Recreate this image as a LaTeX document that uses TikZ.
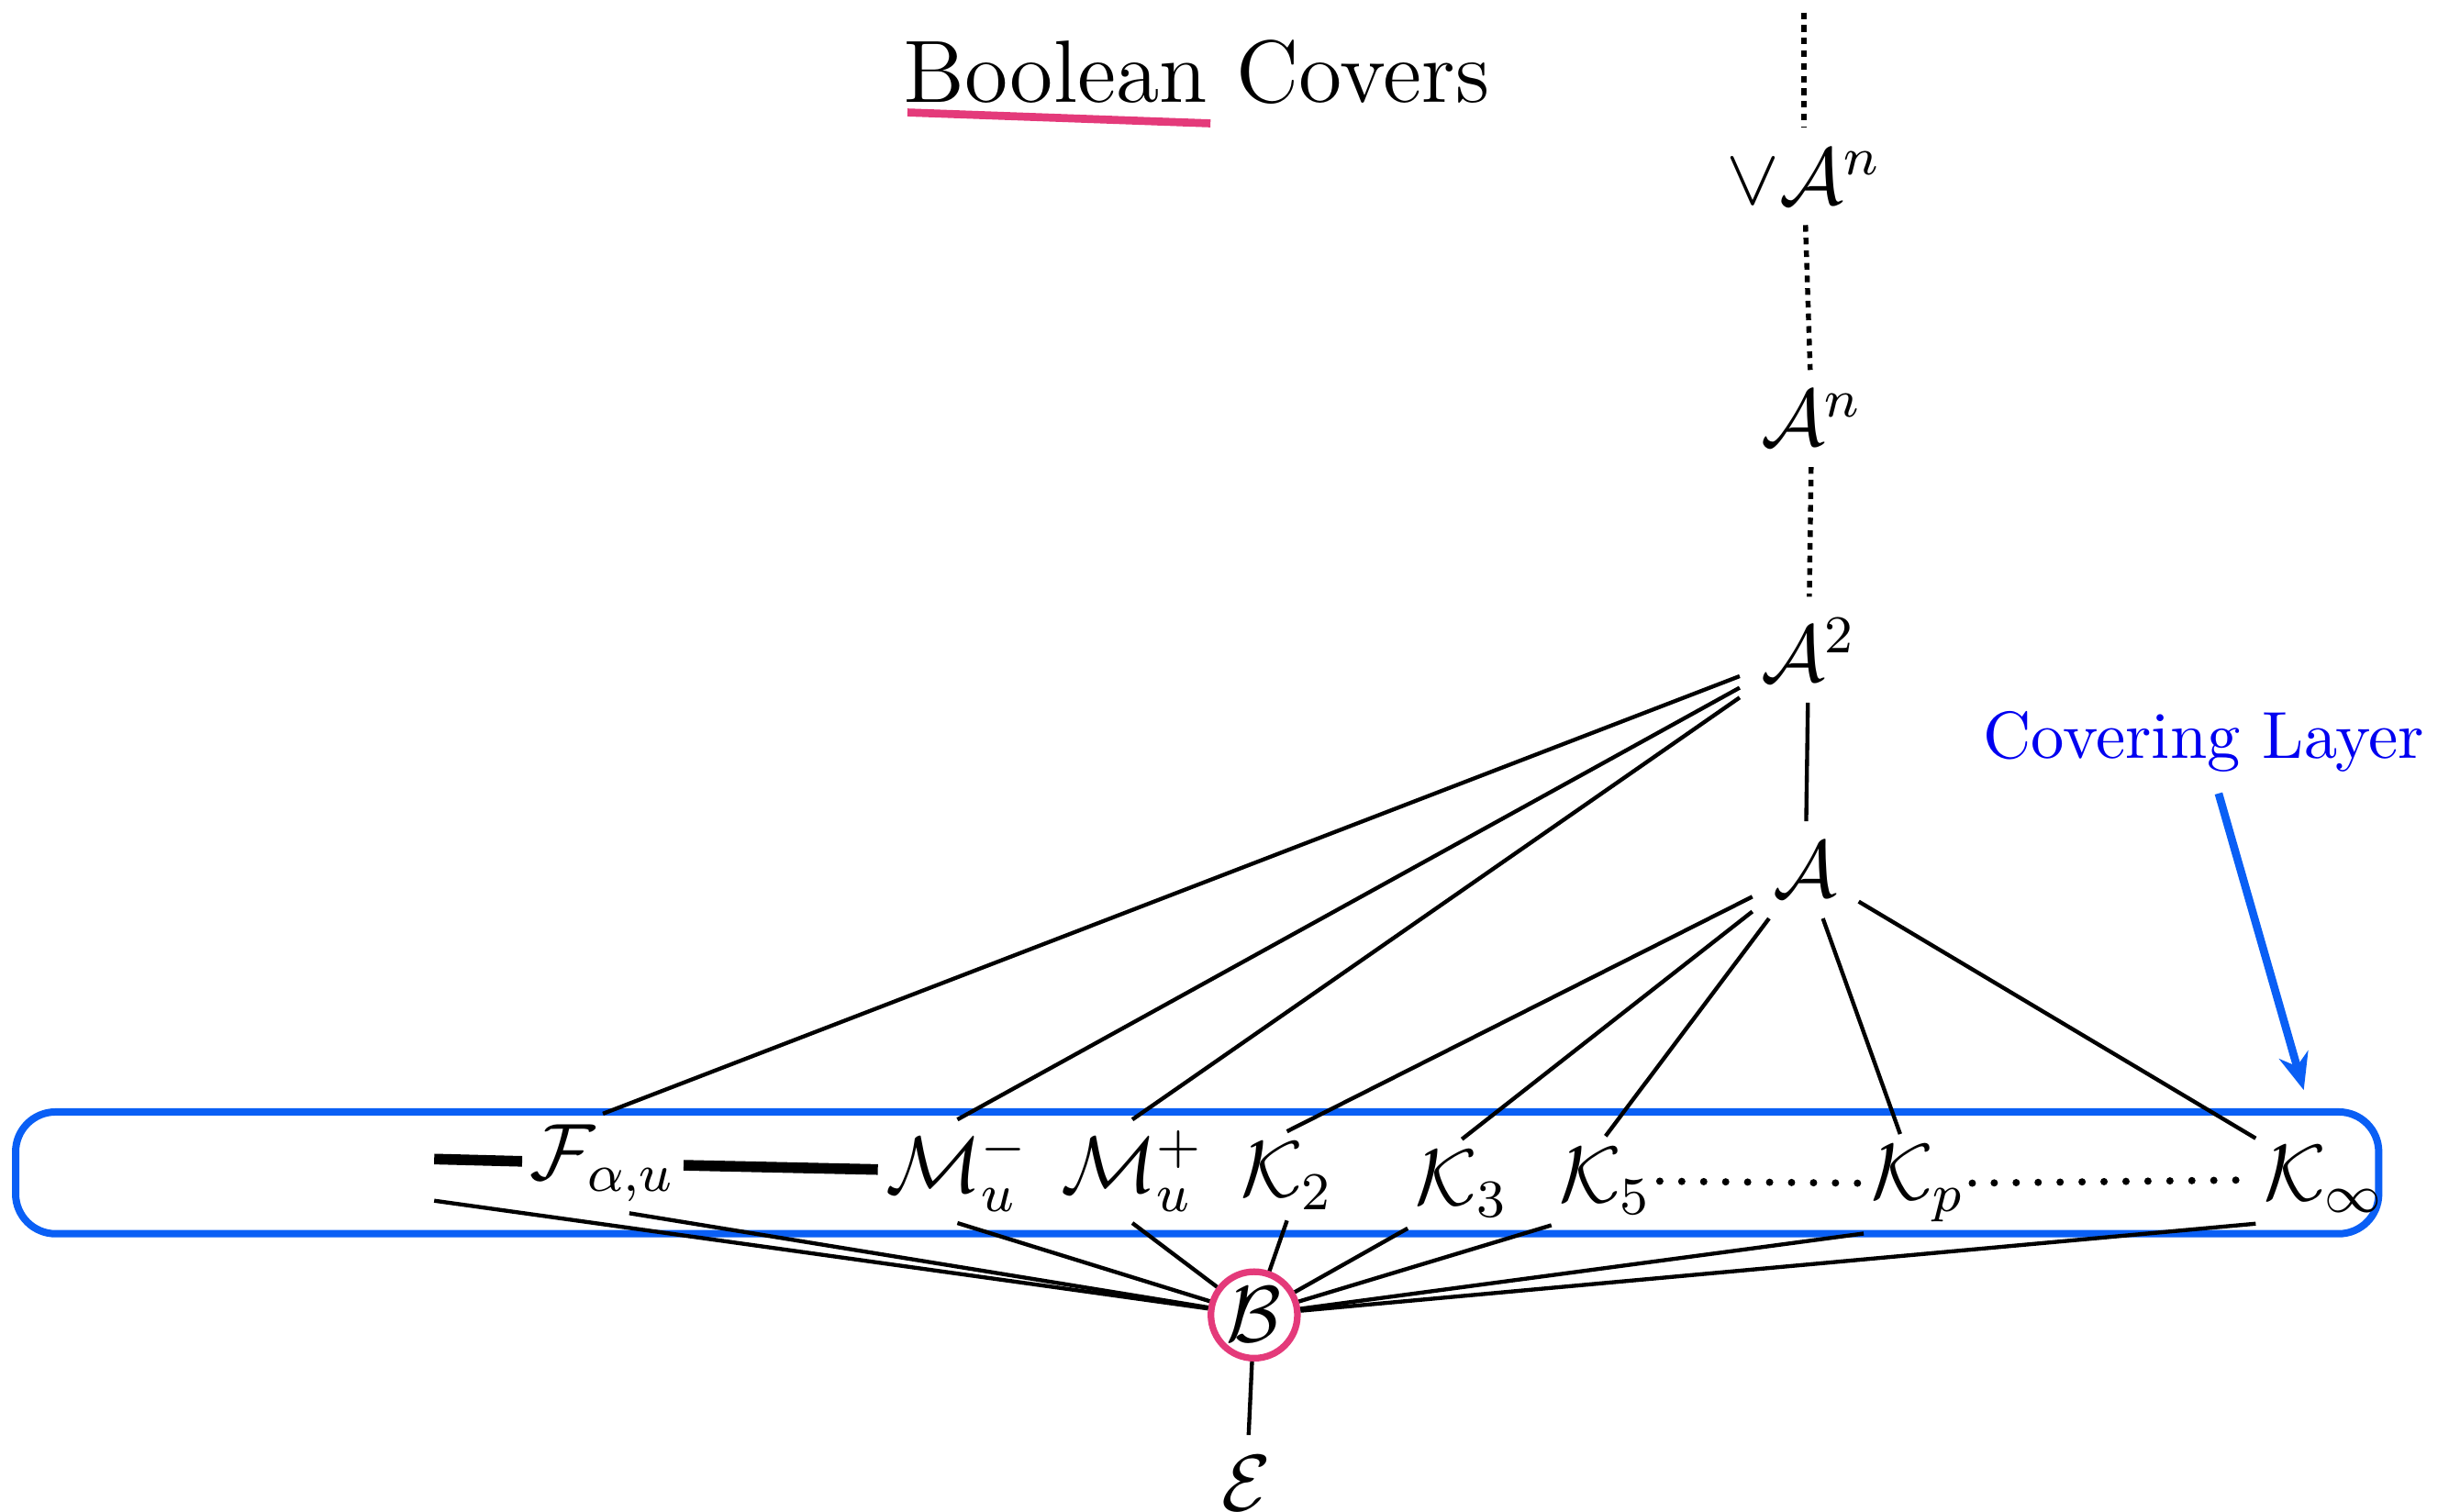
\documentclass[tikz,border=0pt]{standalone}
\usepackage{amsmath}
\usepackage{amssymb}
\usepackage{tikz}
\usepackage{xcolor}
\usetikzlibrary{arrows.meta,positioning,calc}

\definecolor{hlpink}{RGB}{228,58,122}
\definecolor{layerblue}{RGB}{10,95,245}
\definecolor{labelblue}{RGB}{0,0,240}

\begin{document}
\begin{tikzpicture}[x=0.8249cm, y=0.8249cm,
  lat/.style={font=\large, inner sep=3pt},
  cell/.style={font=\large, inner xsep=1pt, inner ysep=1.5pt},
  link/.style={semithick},
  chain/.style={line width=0.75pt, dash pattern=on 1pt off 0.9pt},
  bold/.style={line width=1.6pt},
  dotrow/.style={line width=1.1pt, line cap=round, dash pattern=on 0pt off 3.3pt}]
  \useasboundingbox (0,0) rectangle (15.68,-9.68);

  % title
  \node[font=\fontsize{13.3}{15}\selectfont, inner sep=0pt] (title) at (7.66,-0.46) {Boolean Covers};
  \draw[hlpink, line width=1.2pt] (5.81,-0.72) -- (7.75,-0.79);

  % covering layer box
  \draw[layerblue, line width=1.1pt, rounded corners=6pt] (0.10,-7.12) rectangle (15.23,-7.90);

  % tower
  \coordinate (top) at (11.55,-0.08);
  \node[lat] (vAn) at (11.55,-1.13) {$\vee\mathcal{A}^n$};
  \node[lat] (An) at (11.60,-2.68) {$\mathcal{A}^n$};
  \node[lat] (A2) at (11.58,-4.16) {$\mathcal{A}^2$};
  \node[lat] (A) at (11.56,-5.57) {$\mathcal{A}$};

  % layer row
  \node[inner sep=0pt, minimum width=0pt, minimum height=0.206cm] (L) at (2.78,-7.555) {};
  \node[cell] (F) at (3.86,-7.45) {$\mathcal{F}_{\alpha,u}$};
  \node[cell] (Mm) at (6.13,-7.50) {$\mathcal{M}_u^-$};
  \node[cell] (Mp) at (7.25,-7.50) {$\mathcal{M}_u^+$};
  \node[cell] (K2) at (8.24,-7.53) {$\mathcal{K}_2$};
  \node[cell] (K3) at (9.36,-7.58) {$\mathcal{K}_3$};
  \node[cell] (K5) at (10.28,-7.56) {$\mathcal{K}_5$};
  \node[cell] (Kp) at (12.28,-7.58) {$\mathcal{K}_p$};
  \node[cell] (Ki) at (14.88,-7.55) {$\mathcal{K}_\infty$};

  % bottom
  \node[lat, circle, draw=hlpink, line width=1pt, minimum size=13pt, inner sep=0pt] (B) at (8.03,-8.42) {$\mathcal{B}$};
  \node[lat] (E) at (7.98,-9.50) {$\mathcal{E}$};

  % label
  \node[text=labelblue, inner sep=3pt] (cov) at (14.11,-4.75) {Covering Layer};
  \coordinate (covtip) at (14.75,-6.98);
  \draw[layerblue, line width=1.2pt, -{Stealth[length=5.5pt, width=4.5pt]}] (cov) -- (covtip);

  % edges
  \draw[chain] (top) -- (vAn);
  \draw[chain] (vAn) -- (An);
  \draw[chain] (An) -- (A2);
  \draw[link] (A2) -- (A);
  \draw[link] (A2) -- (F.north);
  \draw[link] (A2) -- (Mm.north);
  \draw[link] (A2) -- (Mp.north);
  \foreach \k in {K2,K3,K5}
    \draw[link] (A) -- (\k.north);
  \draw[link] (A) -- (Kp);
  \draw[link] (A) -- (Ki);

  \draw[bold] (L.north) -- (F);
  \draw[bold] (F) -- (Mm);
  \draw[dotrow] (K5) -- (Kp);
  \draw[dotrow] (Kp) -- (Ki);

  \draw[link] (L.south) -- (B);
  \draw[link] (F.-62) -- (B);
  \foreach \k in {Mm,Mp,K2}
    \draw[link] (\k.south) -- (B);
  \foreach \k in {K3,K5,Kp,Ki}
    \draw[link] (\k.south west) -- (B);
  \draw[link] (B) -- (E);
\end{tikzpicture}
\end{document}
